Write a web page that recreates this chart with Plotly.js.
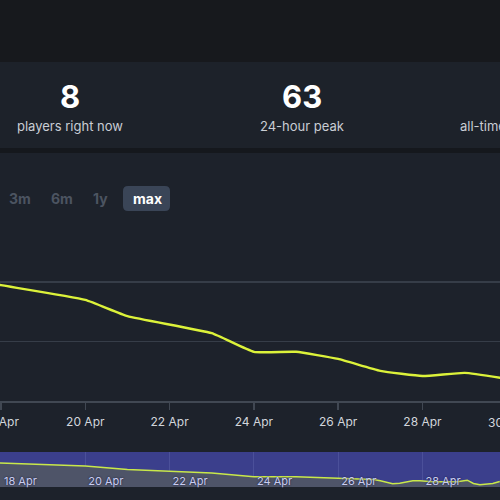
<!DOCTYPE html>
<html>
<head>
<meta charset="utf-8">
<script src="https://cdn.plot.ly/plotly-3.0.1.min.js"></script>
<style>
html,body{margin:0;padding:0;background:#1d222b;}
#chart{width:500px;height:500px;}
</style>
</head>
<body>
<div id="chart"></div>
<script>
// ---- data ----
var dates = ['2024-04-17 12:00','2024-04-18','2024-04-20','2024-04-21','2024-04-23','2024-04-24','2024-04-25','2024-04-26','2024-04-27','2024-04-28','2024-04-29','2024-04-30'];
var players = [302, 292, 255, 214, 171, 124, 124, 106, 76, 63, 71, 56];

var navDates = ['2024-04-17 12:00','2024-04-18','2024-04-20','2024-04-21','2024-04-23','2024-04-24','2024-04-25','2024-04-26','2024-04-26 20:00','2024-04-27','2024-04-27 07:00','2024-04-27 11:00','2024-04-27 18:30','2024-04-27 22:30','2024-04-28 06:00','2024-04-28 19:40','2024-04-29 01:30','2024-04-29 05:00','2024-04-29 08:40','2024-04-29 16:00','2024-04-29 20:00'];
var navPlayers = [302, 292, 255, 214, 171, 124, 124, 106, 91, 75, 39, 46, 75, 75, 63, 63, 83, 43, 27, 43, 67];

var statValues = ['8', '63'];
var statLabels = ['players right now', '24-hour peak', 'all-time peak'];
var rangeButtons = ['3m', '6m', '1y', 'max'];
var edgeTickLabel = '30 Apr';

// ---- helpers (pixel -> paper) ----
function px(x){ return x/500; }
function py(y){ return (500-y)/500; }
function rect(x0,y0,x1,y1,color){
  return {type:'rect', xref:'paper', yref:'paper', x0:px(x0), x1:px(x1), y0:py(y1), y1:py(y0),
          fillcolor:color, line:{width:0}, layer:'below'};
}
function roundRect(x0,y0,x1,y1,r,color){
  var X=function(v){return px(v);}, Y=function(v){return py(v);};
  var p = 'M'+X(x0+r)+','+Y(y0)+' L'+X(x1-r)+','+Y(y0)+' Q'+X(x1)+','+Y(y0)+' '+X(x1)+','+Y(y0+r)+
          ' L'+X(x1)+','+Y(y1-r)+' Q'+X(x1)+','+Y(y1)+' '+X(x1-r)+','+Y(y1)+
          ' L'+X(x0+r)+','+Y(y1)+' Q'+X(x0)+','+Y(y1)+' '+X(x0)+','+Y(y1-r)+
          ' L'+X(x0)+','+Y(y0+r)+' Q'+X(x0)+','+Y(y0)+' '+X(x0+r)+','+Y(y0)+' Z';
  return {type:'path', xref:'paper', yref:'paper', path:p, fillcolor:color, line:{width:0}, layer:'below'};
}

var FONT = 'Inter, "Noto Sans", sans-serif';
var xRange = ['2024-04-17 23:26','2024-04-29 20:08'];

var traces = [
  {x:dates, y:players, type:'scatter', mode:'lines', xaxis:'x', yaxis:'y',
   line:{color:'#dcf23a', width:2.4, shape:'spline', smoothing:0.4}, hoverinfo:'skip'},
  {x:navDates, y:navPlayers, type:'scatter', mode:'lines', xaxis:'x2', yaxis:'y2',
   fill:'tozeroy', fillcolor:'#4e5468',
   line:{color:'#c9e84a', width:1.5}, hoverinfo:'skip'}
];

var shapes = [
  rect(0,0,500,62,'#17191d'),
  rect(0,62,500,148,'#1d222a'),
  rect(0,148,500,153,'#15181d'),
  rect(0,452,500,487,'#3b3f8c'),
  roundRect(123,186,170,211,5,'#3a4557')
];

var annotations = [];
var statX = [70, 302];
for (var i=0;i<statValues.length;i++){
  annotations.push({xref:'paper', yref:'paper', x:px(statX[i]), y:py(97), text:'<b>'+statValues[i]+'</b>',
    showarrow:false, xanchor:'center', yanchor:'middle', font:{family:FONT, size:31, color:'#ffffff'}});
}
var labelX = [70, 302];
for (var j=0;j<2;j++){
  annotations.push({xref:'paper', yref:'paper', x:px(labelX[j]), y:py(126), text:statLabels[j],
    showarrow:false, xanchor:'center', yanchor:'middle', font:{family:FONT, size:13, color:'#c9cdd4'}});
}
annotations.push({xref:'paper', yref:'paper', x:px(458), y:py(126), text:statLabels[2],
    showarrow:false, xanchor:'left', yanchor:'middle', font:{family:FONT, size:13, color:'#c9cdd4'}});

var btnX = [20, 62, 100, 147];
for (var k=0;k<rangeButtons.length;k++){
  var active = rangeButtons[k]==='max';
  annotations.push({xref:'paper', yref:'paper', x:px(btnX[k]), y:py(198), text:'<b>'+rangeButtons[k]+'</b>',
    showarrow:false, xanchor:'center', yanchor:'middle',
    font:{family:FONT, size:14, color: active ? '#ffffff' : '#4c5461'}});
}
// tick label of 30 Apr, just beyond the right edge of the visible range
annotations.push({xref:'paper', yref:'paper', x:px(507), y:py(422), text:edgeTickLabel,
    showarrow:false, xanchor:'center', yanchor:'middle', font:{family:FONT, size:12, color:'#d2d6dc'}});

var layout = {
  width:500, height:500,
  margin:{l:0,r:0,t:0,b:0},
  paper_bgcolor:'#1d222b', plot_bgcolor:'rgba(0,0,0,0)',
  showlegend:false,
  font:{family:FONT, color:'#cfd3da'},
  xaxis:{domain:[0,1], anchor:'y', type:'date', range:xRange,
    tick0:'2024-04-18', dtick:2*86400000, tickformat:'%-d %b',
    showgrid:false, showline:true, linecolor:'#414853', linewidth:1.5,
    ticks:'outside', ticklen:7, tickcolor:'#414853', tickwidth:1.5,
    ticklabeloverflow:'allow', ticklabelstandoff:2,
    tickfont:{family:FONT, size:12, color:'#d2d6dc'}, zeroline:false},
  yaxis:{domain:[py(401), py(222.5)], anchor:'x', range:[0,450], dtick:150,
    showticklabels:false, showgrid:true, gridcolor:'#363d48', gridwidth:1.2,
    zeroline:false, showline:false},
  xaxis2:{domain:[0,1], anchor:'y2', type:'date', range:xRange,
    tick0:'2024-04-18', dtick:2*86400000, tickformat:'%-d %b',
    showgrid:true, gridcolor:'#4b509a', gridwidth:1, showline:false, zeroline:false,
    ticks:'', ticklabelposition:'inside right', ticklabelstandoff:-6, ticklabelshift:3,
    ticklabeloverflow:'allow',
    tickfont:{family:FONT, size:11, color:'#c9cdf0', shadow:'0 0 2px #15173a'}},
  yaxis2:{domain:[py(487), py(452)], anchor:'x2', range:[0,426],
    showticklabels:false, showgrid:false, zeroline:false, showline:false},
  shapes:shapes,
  annotations:annotations
};

Plotly.newPlot('chart', traces, layout, {staticPlot:true, displayModeBar:false});
</script>
</body>
</html>
